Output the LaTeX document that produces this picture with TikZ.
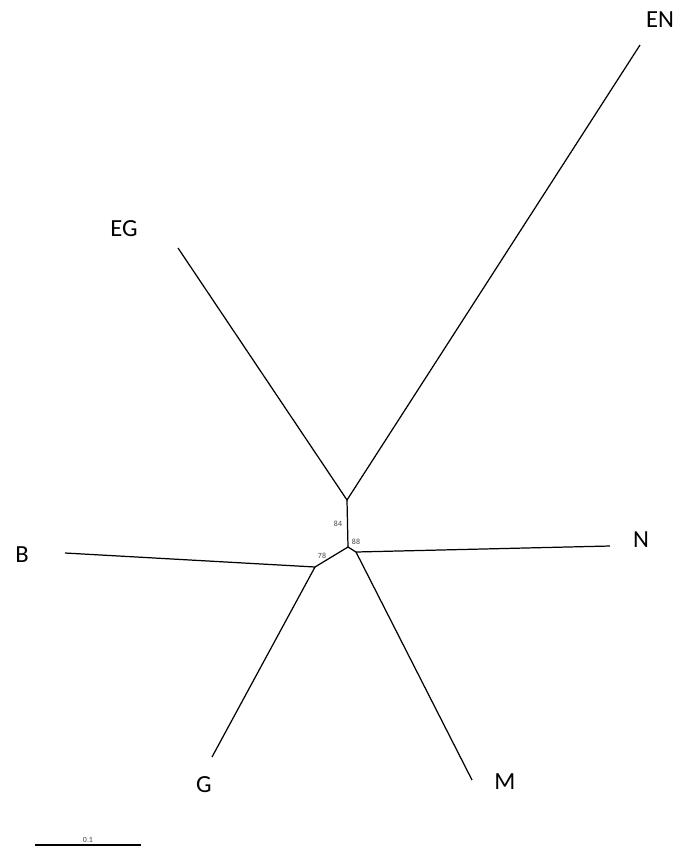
\documentclass[tikz,border=0pt]{standalone}
\usepackage{fontspec}
\setmainfont{Carlito}
\usepackage{tikz}
\usetikzlibrary{positioning,calc}

\begin{document}
\begin{tikzpicture}[x=0.02cm, y=-0.02cm]
    % Define styles
    \tikzstyle{branch} = [line width=0.7pt, black]
    \tikzstyle{taxon} = [font=\fontsize{14}{14}\selectfont, text=black, inner sep=0pt]
    \tikzstyle{support} = [font=\fontsize{4.5}{4.5}\selectfont, text=black!75, inner sep=0pt]

    \useasboundingbox (0,0) rectangle (692,849);

    % Internal nodes
    \coordinate (top) at (347,500);
    \coordinate (mid) at (348,547);
    \coordinate (right) at (356,552);
    \coordinate (left) at (315,567);

    % Tips
    \coordinate (tipEN) at (640,45);
    \coordinate (tipEG) at (178,248);
    \coordinate (tipB) at (65,553);
    \coordinate (tipN) at (610,546);
    \coordinate (tipG) at (212,757);
    \coordinate (tipM) at (472,780);

    % Labels
    \node[taxon] (EN) at (660,20) {EN};
    \node[taxon] (EG) at (124,229) {EG};
    \node[taxon] (B) at (22,555) {B};
    \node[taxon] (N) at (641,540) {N};
    \node[taxon] (G) at (204,785) {G};
    \node[taxon] (M) at (505,782) {M};

    % Branches
    \draw[branch] (tipEG) -- (top) -- (tipEN);
    \draw[branch] (top) -- (mid);
    \draw[branch] (mid) -- (right) -- (tipN);
    \draw[branch] (right) -- (tipM);
    \draw[branch] (mid) -- (left);
    \draw[branch] (tipB) -- (left) -- (tipG);

    % Support values
    \node[support] (s84) at (338,524) {84};
    \node[support] (s88) at (356,542) {88};
    \node[support] (s78) at (322,556) {78};

    % Scale bar
    \coordinate (sbA) at (35,845);
    \coordinate (sbB) at (141,845);
    \draw[branch] (sbA) -- (sbB) node[support, midway, above=0.8pt] (sbl) {0.1};
\end{tikzpicture}
\end{document}
